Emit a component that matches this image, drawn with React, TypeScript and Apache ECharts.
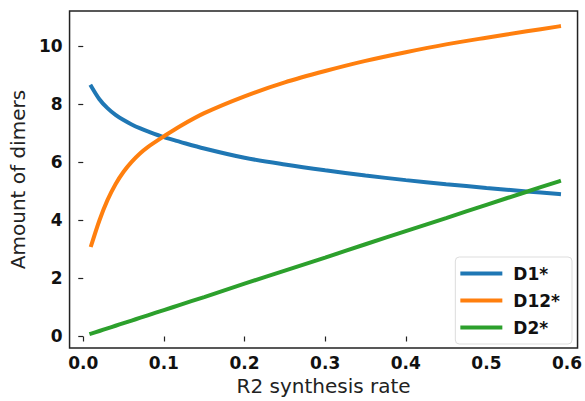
import React, { useEffect, useRef } from "react";
import * as echarts from "echarts";

const xValues = [0.01, 0.02, 0.03, 0.04, 0.05, 0.06, 0.07, 0.08, 0.1, 0.12, 0.15, 0.2, 0.25, 0.3, 0.35, 0.4, 0.45, 0.5, 0.55, 0.59];
const d1Values = [8.62, 8.18, 7.87, 7.64, 7.46, 7.31, 7.18, 7.07, 6.87, 6.71, 6.48, 6.16, 5.93, 5.73, 5.55, 5.39, 5.25, 5.12, 5.0, 4.91];
const d12Values = [3.15, 4.0, 4.7, 5.25, 5.68, 6.02, 6.3, 6.53, 6.9, 7.25, 7.7, 8.28, 8.76, 9.15, 9.5, 9.8, 10.07, 10.3, 10.52, 10.69];
const d2Values = [0.1, 0.19, 0.28, 0.37, 0.46, 0.55, 0.64, 0.73, 0.91, 1.09, 1.36, 1.82, 2.27, 2.72, 3.18, 3.63, 4.08, 4.54, 4.99, 5.35];
const seriesNames = ["D1*", "D12*", "D2*"];
const seriesColors = ["#1f77b4", "#ff7f0e", "#2ca02c"];
const xTicks = [0, 0.1, 0.2, 0.3, 0.4, 0.5, 0.6];
const yTicks = [0, 2, 4, 6, 8, 10];

const FONT = "DejaVu Sans";

export default function App() {
  const ref = useRef<HTMLDivElement>(null);
  useEffect(() => {
    if (!ref.current) return;
    const chart = echarts.init(ref.current, null, { renderer: "svg" });
    const allValues = [d1Values, d12Values, d2Values];
    chart.setOption({
      animation: false,
      backgroundColor: "#ffffff",
      grid: {
        left: 64,
        right: 7,
        top: 11,
        bottom: 48,
        show: true,
        borderColor: "#222",
        borderWidth: 1.5,
        backgroundColor: "transparent",
      },
      xAxis: {
        type: "value",
        min: -0.017,
        max: 0.613,
        name: "R2 synthesis rate",
        nameLocation: "middle",
        nameGap: 22,
        nameTextStyle: { fontFamily: FONT, fontSize: 20, color: "#222" },
        axisLine: { show: false },
        splitLine: { show: false },
        axisTick: {
          show: true,
          inside: false,
          length: 5,
          customValues: xTicks,
          lineStyle: { color: "#222", width: 1.2 },
        },
        axisLabel: {
          customValues: xTicks,
          margin: 6,
          fontFamily: FONT,
          fontWeight: "bold",
          fontSize: 17,
          color: "#111",
          formatter: (v: number) => v.toFixed(1),
        },
      },
      yAxis: {
        type: "value",
        min: -0.4,
        max: 11.22,
        name: "Amount of dimers",
        nameLocation: "middle",
        nameGap: 33,
        nameTextStyle: { fontFamily: FONT, fontSize: 20, color: "#222" },
        axisLine: { show: false },
        splitLine: { show: false },
        axisTick: {
          show: true,
          inside: false,
          length: 5,
          customValues: yTicks,
          lineStyle: { color: "#222", width: 1.2 },
        },
        axisLabel: {
          customValues: yTicks,
          margin: 7,
          fontFamily: FONT,
          fontWeight: "bold",
          fontSize: 17,
          color: "#111",
          formatter: (v: number) => String(v),
        },
      },
      legend: {
        orient: "vertical",
        right: 13,
        top: 257,
        padding: [8, 12, 8, 5],
        itemWidth: 42,
        itemHeight: 4,
        itemGap: 10,
        icon: "rect",
        backgroundColor: "#fff",
        borderColor: "#dddddd",
        borderWidth: 1,
        borderRadius: 4,
        data: seriesNames,
        textStyle: {
          fontFamily: FONT,
          fontWeight: "bold",
          fontSize: 17,
          lineHeight: 17,
          color: "#111",
          padding: [0, 0, 0, 6],
        },
      },
      series: seriesNames.map((name, i) => ({
        name,
        type: "line",
        data: xValues.map((x, j) => [x, allValues[i][j]]),
        showSymbol: false,
        smooth: 0.3,
        color: seriesColors[i],
        lineStyle: { color: seriesColors[i], width: 4, cap: "square" },
        itemStyle: { color: seriesColors[i] },
      })),
    });
    return () => chart.dispose();
  }, []);
  return (
    <div
      ref={ref}
      style={{ position: "fixed", left: 0, top: 0, width: 585, height: 401, background: "#fff" }}
    />
  );
}
